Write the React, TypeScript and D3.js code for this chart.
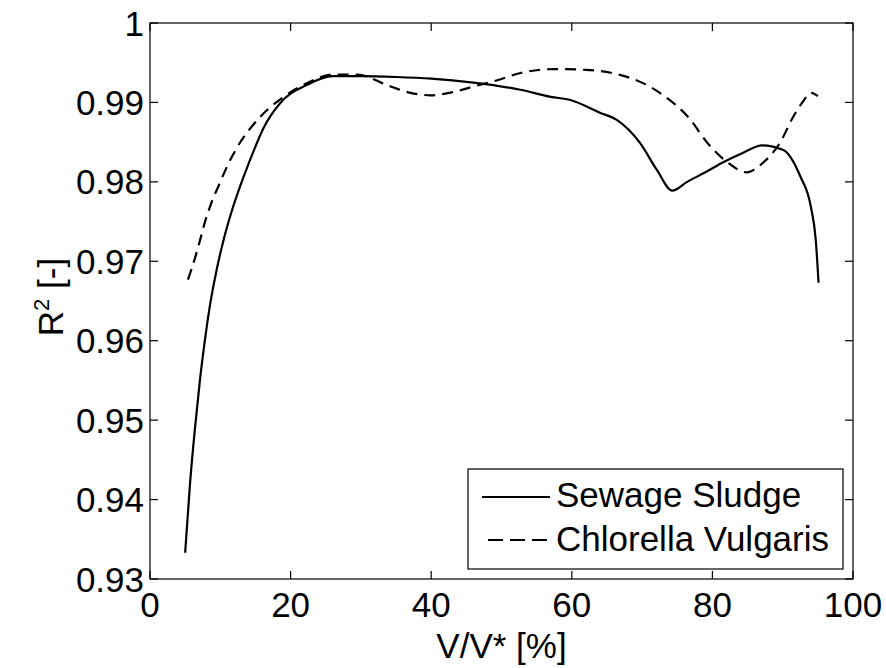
import React from "react";
import * as d3 from "d3";

const sewageX = [5, 5.7, 6.4, 7.1, 7.8, 8.5, 9.5, 10.5, 11.8, 13.3, 14.7, 16.1, 18.5, 22.3, 26, 30, 35, 40, 46, 52.7, 57, 59.8, 64, 66.4, 69.7, 72.1, 74.3, 76.4, 79, 81.6, 84, 87.1, 90.1, 92.5, 94, 94.7, 95.1];
const sewageY = [0.9333, 0.9421, 0.949, 0.955, 0.96, 0.9643, 0.969, 0.9728, 0.9768, 0.9806, 0.9838, 0.9867, 0.9899, 0.9922, 0.9933, 0.9933, 0.9932, 0.993, 0.9925, 0.9916, 0.9907, 0.9903, 0.9887, 0.9878, 0.9849, 0.9815, 0.9789, 0.98, 0.9812, 0.9825, 0.9835, 0.9846, 0.984, 0.9807, 0.9769, 0.9727, 0.9673];

const chlorX = [5.4, 6.4, 7.1, 7.8, 8.5, 10, 11.1, 12.3, 15.7, 19, 22.3, 26, 29.5, 33.7, 36.6, 39.9, 43.1, 46, 49.4, 52.7, 57.4, 62, 66.7, 70.2, 73, 76.9, 79.2, 82.1, 84.9, 87.2, 89.6, 91.5, 92.8, 94, 95];
const chlorY = [0.9677, 0.9704, 0.9726, 0.9749, 0.9768, 0.98, 0.9822, 0.9842, 0.9882, 0.9907, 0.9924, 0.9935, 0.9935, 0.9922, 0.9913, 0.9909, 0.9913, 0.992, 0.9928, 0.9937, 0.9942, 0.9941, 0.9935, 0.9924, 0.9909, 0.9878, 0.985, 0.9825, 0.9812, 0.9824, 0.9849, 0.9882, 0.99, 0.9912, 0.9908];

const xTicks = [0, 20, 40, 60, 80, 100];
const xTickLabels = ["0", "20", "40", "60", "80", "100"];
const yTicks = [0.93, 0.94, 0.95, 0.96, 0.97, 0.98, 0.99, 1];
const yTickLabels = ["0.93", "0.94", "0.95", "0.96", "0.97", "0.98", "0.99", "1"];

const seriesNames = ["Sewage Sludge", "Chlorella Vulgaris"];

export default function App() {
  const W = 886, H = 668;
  const left = 150, right = 853, top = 23, bottom = 579;
  const x = d3.scaleLinear().domain([0, 100]).range([left, right]);
  const y = d3.scaleLinear().domain([0.93, 1]).range([bottom, top]);
  const line = d3.line<[number, number]>().x(d => x(d[0])).y(d => y(d[1])).curve(d3.curveMonotoneX);
  const sew = line(sewageX.map((v, i) => [v, sewageY[i]] as [number, number])) || "";
  const chl = line(chlorX.map((v, i) => [v, chlorY[i]] as [number, number])) || "";
  const font = "'Liberation Sans', Arial, sans-serif";
  const fs = 35;
  const tick = 8;
  return (
    <svg width={W} height={H} style={{ position: "absolute", left: 0, top: 0, background: "#fff" }} fontFamily={font}>
      <rect x={0} y={0} width={W} height={H} fill="#fff" />
      <path d={sew} fill="none" stroke="#000" strokeWidth={2.2} strokeLinejoin="round" />
      <path d={chl} fill="none" stroke="#000" strokeWidth={2.2} strokeDasharray="11,7" />
      <rect x={left} y={top} width={right - left} height={bottom - top} fill="none" stroke="#000" strokeWidth={1.2} />
      {xTicks.map((t, i) => (
        <g key={"x" + i}>
          <line x1={x(t)} x2={x(t)} y1={bottom} y2={bottom - tick} stroke="#000" strokeWidth={1.2} />
          <line x1={x(t)} x2={x(t)} y1={top} y2={top + tick} stroke="#000" strokeWidth={1.2} />
          <text x={x(t)} y={617} textAnchor="middle" fontSize={fs}>{xTickLabels[i]}</text>
        </g>
      ))}
      {yTicks.map((t, i) => (
        <g key={"y" + i}>
          <line x1={left} x2={left + tick} y1={y(t)} y2={y(t)} stroke="#000" strokeWidth={1.2} />
          <line x1={right} x2={right - tick} y1={y(t)} y2={y(t)} stroke="#000" strokeWidth={1.2} />
          <text x={left - 6} y={y(t) + 12.5} textAnchor="end" fontSize={fs}>{yTickLabels[i]}</text>
        </g>
      ))}
      <text x={(left + right) / 2} y={658} textAnchor="middle" fontSize={fs}>V/V* [%]</text>
      <text transform={`translate(63,${(top + bottom) / 2 - 4}) rotate(-90)`} textAnchor="middle" fontSize={fs}>
        R<tspan dy={-14} fontSize={22}>2</tspan><tspan dy={14}> [-]</tspan>
      </text>
      <g>
        <rect x={468} y={469} width={375} height={100} fill="#fff" stroke="#000" strokeWidth={1.2} />
        <line x1={482} x2={550} y1={497} y2={497} stroke="#000" strokeWidth={2.2} />
        <line x1={488} x2={550} y1={540} y2={540} stroke="#000" strokeWidth={2.2} strokeDasharray="15,7" />
        <text x={556} y={507} fontSize={fs}>{seriesNames[0]}</text>
        <text x={556} y={551} fontSize={fs}>{seriesNames[1]}</text>
      </g>
    </svg>
  );
}
